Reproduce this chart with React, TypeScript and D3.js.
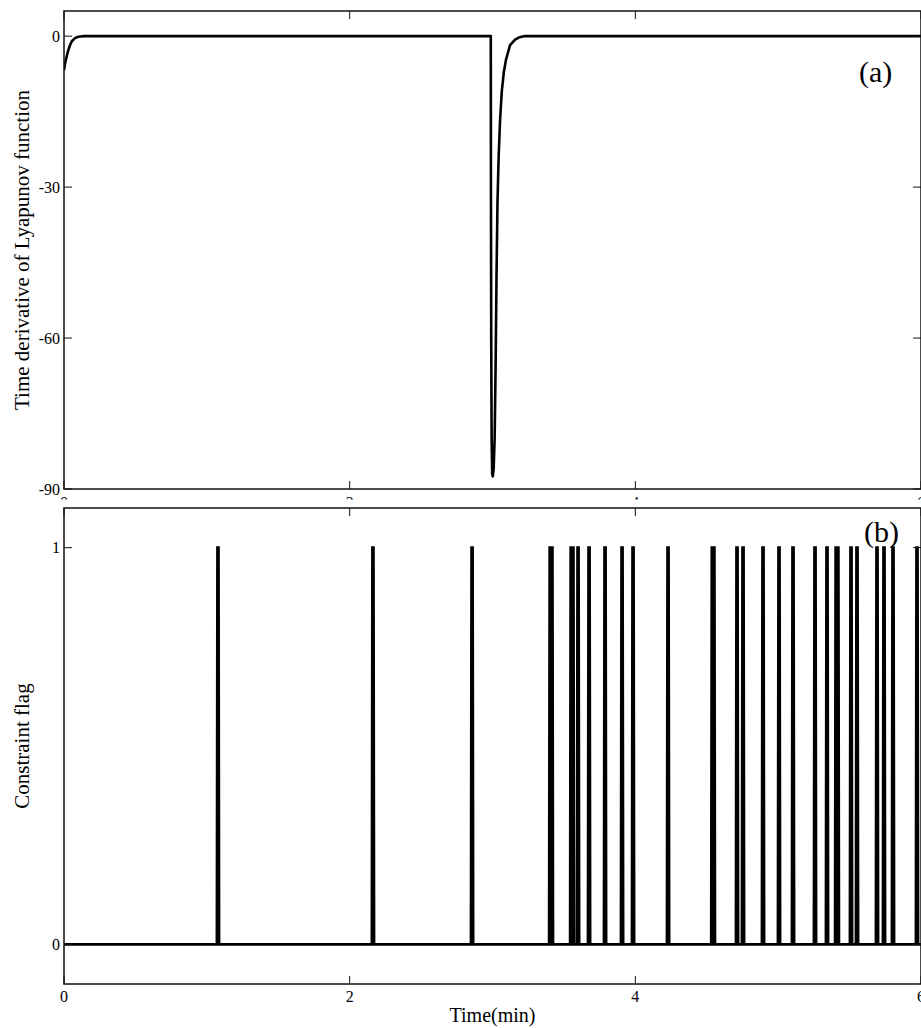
import React from "react";
import * as d3 from "d3";

// ---- data ----
const lyapTime = [0, 0.007, 0.014, 0.021, 0.03, 0.042, 0.055, 0.077, 0.1, 0.14, 2.988, 2.989, 2.991, 2.994, 2.998, 3.002, 3.008, 3.015, 3.022, 3.028, 3.035, 3.043, 3.053, 3.065, 3.08, 3.095, 3.123, 3.158, 3.19, 3.22, 6];
const lyapValue = [-6.8, -5.5, -4.6, -3.8, -2.8, -1.8, -1.0, -0.4, -0.12, 0, 0, -30, -60, -80, -87, -87.5, -86, -80, -65, -48, -33, -24, -16.7, -11, -7, -4.6, -1.8, -0.7, -0.2, 0, 0];

const pulseTimes = [1.078, 2.163, 2.857, 3.404, 3.416, 3.551, 3.563, 3.599, 3.676, 3.788, 3.907, 3.984, 4.229, 4.539, 4.55, 4.712, 4.754, 4.894, 5.006, 5.104, 5.258, 5.342, 5.406, 5.418, 5.51, 5.552, 5.692, 5.741, 5.804, 5.972];

const xTicks = [0, 2, 4, 6];
const yTicksTop = [0, -30, -60, -90];
const yTicksBottom = [0, 1];

const W = 921;
const H = 1028;
const FONT = "'Liberation Serif', 'Times New Roman', serif";

export default function App() {
  const left = 64;
  const right = 921;
  const x = d3.scaleLinear().domain([0, 6]).range([left, right]);

  // top panel
  const tTop = 11, tBot = 489;
  const yA = d3.scaleLinear().domain([-90, 5]).range([tBot, tTop]);
  // bottom panel
  const bTop = 508, bBot = 984;
  const yB = d3.scaleLinear().domain([-0.1, 1.1]).range([bBot, bTop]);

  const lineA = d3.line<number>().x((_, i) => x(lyapTime[i])).y((d) => yA(d));
  const pathA = lineA(lyapValue) || "";

  // constraint flag series built from pulse times
  const flagPts: [number, number][] = [[0, 0]];
  const hw = 0.004;
  pulseTimes.forEach((t) => {
    flagPts.push([t - 2 * hw, 0], [t - hw, 1], [t + hw, 1], [t + 2 * hw, 0]);
  });
  flagPts.push([6, 0]);
  const lineB = d3.line<[number, number]>().x((d) => x(d[0])).y((d) => yB(d[1]));
  const pathB = lineB(flagPts) || "";

  const tl = 8;
  const axisColor = "#111";

  return (
    <svg width={W} height={H} style={{ position: "absolute", left: 0, top: 0, background: "#fff" }} fontFamily={FONT}>
      <rect x={0} y={0} width={W} height={H} fill="#fff" />
      <defs>
        <clipPath id="clipA"><rect x={left} y={tTop} width={right - left} height={tBot - tTop} /></clipPath>
        <clipPath id="clipB"><rect x={left} y={bTop} width={right - left} height={bBot - bTop} /></clipPath>
      </defs>
      {/* top panel x tick labels (mostly hidden by lower panel) */}
      {xTicks.map((v) => (
        <text key={"xa" + v} x={x(v)} y={508} fontSize={16} textAnchor="middle" fill="#000">{v}</text>
      ))}
      <rect x={0} y={499.5} width={W} height={9} fill="#fff" />
      <path d={pathA} fill="none" stroke="#000" strokeWidth={2.6} strokeLinejoin="round" clipPath="url(#clipA)" />
      <rect x={left} y={tTop} width={right - left} height={tBot - tTop} fill="none" stroke={axisColor} strokeWidth={1.5} />
      {yTicksTop.map((v) => (
        <g key={"ya" + v}>
          <line x1={left} x2={left + tl} y1={yA(v)} y2={yA(v)} stroke={axisColor} strokeWidth={1} />
          <line x1={right - tl} x2={right} y1={yA(v)} y2={yA(v)} stroke={axisColor} strokeWidth={1} />
          <text x={left - 4} y={yA(v) + 5.5} fontSize={16} textAnchor="end" fill="#000">{v}</text>
        </g>
      ))}
      {xTicks.map((v) => (
        <g key={"xat" + v}>
          <line x1={x(v)} x2={x(v)} y1={tBot} y2={tBot - tl} stroke={axisColor} strokeWidth={1} />
          <line x1={x(v)} x2={x(v)} y1={tTop} y2={tTop + tl} stroke={axisColor} strokeWidth={1} />
        </g>
      ))}
      <text transform={`translate(29, ${(tTop + tBot) / 2}) rotate(-90)`} fontSize={21} textAnchor="middle" fill="#000">
        Time derivative of Lyapunov function
      </text>
      <text x={859} y={82} fontSize={30} fill="#000">(a)</text>

      {/* ===== Bottom panel ===== */}
      <path d={pathB} fill="none" stroke="#000" strokeWidth={2.6} strokeLinejoin="miter" clipPath="url(#clipB)" />
      <rect x={left} y={bTop} width={right - left} height={bBot - bTop} fill="none" stroke={axisColor} strokeWidth={1.5} />
      {yTicksBottom.map((v) => (
        <g key={"yb" + v}>
          <line x1={left} x2={left + tl} y1={yB(v)} y2={yB(v)} stroke={axisColor} strokeWidth={1} />
          <line x1={right - tl} x2={right} y1={yB(v)} y2={yB(v)} stroke={axisColor} strokeWidth={1} />
          <text x={left - 4} y={yB(v) + 5.5} fontSize={16} textAnchor="end" fill="#000">{v}</text>
        </g>
      ))}
      {xTicks.map((v) => (
        <g key={"xb" + v}>
          <line x1={x(v)} x2={x(v)} y1={bBot} y2={bBot - tl} stroke={axisColor} strokeWidth={1} />
          <line x1={x(v)} x2={x(v)} y1={bTop} y2={bTop + tl} stroke={axisColor} strokeWidth={1} />
          <text x={x(v)} y={1002} fontSize={16} textAnchor="middle" fill="#000">{v}</text>
        </g>
      ))}
      <text transform={`translate(29, ${(bTop + bBot) / 2}) rotate(-90)`} fontSize={21} textAnchor="middle" fill="#000">
        Constraint flag
      </text>
      <text x={(left + right) / 2} y={1022} fontSize={20} textAnchor="middle" fill="#000">Time(min)</text>
      <text x={864} y={542} fontSize={30} fill="#000">(b)</text>
    </svg>
  );
}
